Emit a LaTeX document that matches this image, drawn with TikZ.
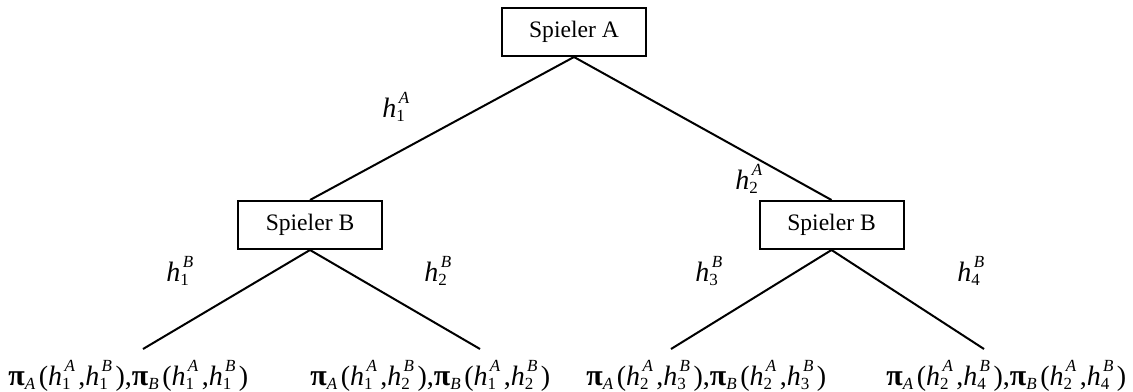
\documentclass[tikz,border=0pt]{standalone}
\usepackage{fontspec}
\setmainfont{Liberation Serif}
\newcommand{\hvar}[2]{\textit{h}\makebox[0pt][l]{\raisebox{-2pt}{\fontsize{8.5}{9}\selectfont #1}}\hspace{1.2pt}\raisebox{7pt}{\fontsize{8.5}{9}\selectfont\itshape #2}\hspace{1.7pt}}
\newcommand{\pvar}[1]{{\fontsize{15}{16}\selectfont\bfseries π}\raisebox{-2pt}{\fontsize{8.5}{9}\selectfont\itshape #1}\hspace{1.8pt}}
\tikzset{
  player/.style={draw, line width=1pt, minimum width=72pt, minimum height=24pt, inner sep=0pt, font=\fontsize{11.8}{14}\selectfont},
  edge/.style={line width=1pt},
  lbl/.style={anchor=base west, inner sep=0pt, font=\fontsize{14}{16}\selectfont},
}
\begin{document}
\begin{tikzpicture}[x=0.5pt, y=-0.5pt]
\useasboundingbox (0,0) rectangle (1133,391);
\node[player] (A) at (574,32) {Spieler A};
\node[player] (BL) at (310,225) {Spieler B};
\node[player] (BR) at (831.5,225) {Spieler B};
\coordinate (e1) at (143,349);
\coordinate (e2) at (480,349);
\coordinate (e3) at (671,349);
\coordinate (e4) at (984,349);
\draw[edge] (A.south) -- (BL.north);
\draw[edge] (A.south) -- (BR.north);
\draw[edge] (BL.south) -- (e1);
\draw[edge] (BL.south) -- (e2);
\draw[edge] (BR.south) -- (e3);
\draw[edge] (BR.south) -- (e4);
\node[lbl] (hA1) at (382,117) {\hvar{1}{A}};
\node[lbl] (hA2) at (735,189) {\hvar{2}{A}};
\node[lbl] (hB1) at (166,281) {\hvar{1}{B}};
\node[lbl] (hB2) at (424,281) {\hvar{2}{B}};
\node[lbl] (hB3) at (695,281) {\hvar{3}{B}};
\node[lbl] (hB4) at (957,281) {\hvar{4}{B}};
\node[lbl] (l1) at (8,385) {\pvar{A}(\hvar{1}{A},\hvar{1}{B}),\pvar{B}(\hvar{1}{A},\hvar{1}{B})};
\node[lbl] (l2) at (310,385) {\pvar{A}(\hvar{1}{A},\hvar{2}{B}),\pvar{B}(\hvar{1}{A},\hvar{2}{B})};
\node[lbl] (l3) at (586,385) {\pvar{A}(\hvar{2}{A},\hvar{3}{B}),\pvar{B}(\hvar{2}{A},\hvar{3}{B})};
\node[lbl] (l4) at (886,385) {\pvar{A}(\hvar{2}{A},\hvar{4}{B}),\pvar{B}(\hvar{2}{A},\hvar{4}{B})};
\end{tikzpicture}
\end{document}
